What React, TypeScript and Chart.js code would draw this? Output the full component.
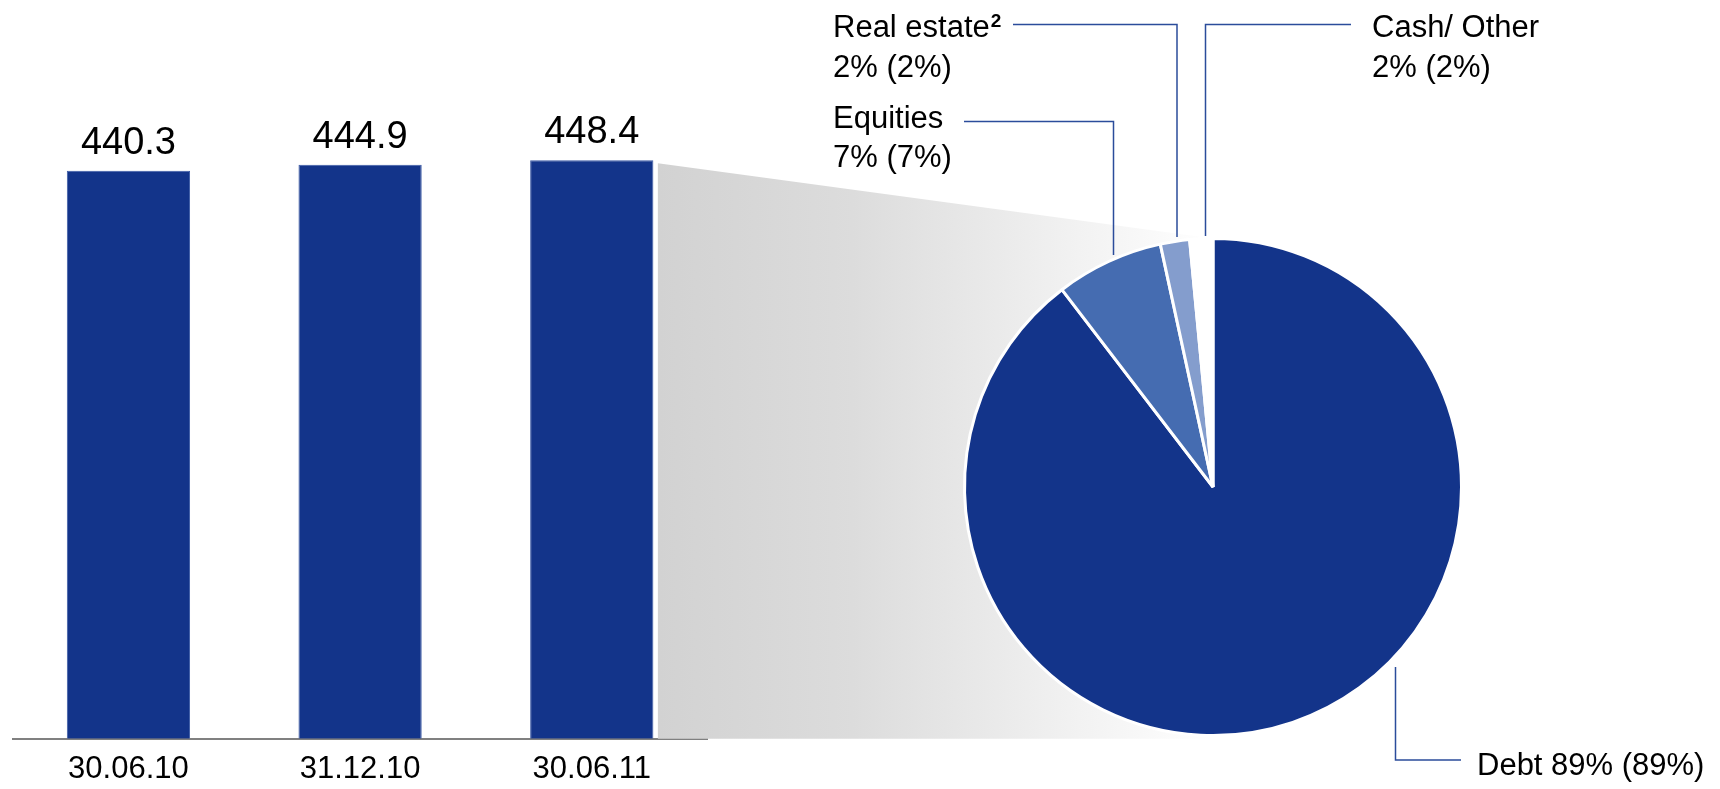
import React, { useEffect, useRef } from "react";
import { Chart, registerables } from "chart.js";

Chart.register(...registerables);

// ---- data ----
const categories = ["30.06.10", "31.12.10", "30.06.11"];
const totalValues = [440.3, 444.9, 448.4];
const valueLabels = ["440.3", "444.9", "448.4"];

const sliceNames = ["Debt", "Equities", "Real estate", "Cash/ Other"];
const sliceValues = [89.6, 7.0, 1.9, 1.5];
const sliceColors = ["#13348a", "#456cb1", "#849dcd", "#ffffff"];
const realEstateLines = ["Real estate", "2% (2%)"];
const equitiesLines = ["Equities", "7% (7%)"];
const cashLines = ["Cash/ Other", "2% (2%)"];
const debtLine = "Debt 89% (89%)";

// ---- layout ----
const W = 1720;
const H = 789;
const PIE_CX = 1213;
const PIE_CY = 487;
const PIE_R = 248.5;
const PIE_CANVAS = 2 * Math.ceil(PIE_R) + 20;
const FONT = "'Liberation Sans', Arial, Helvetica, sans-serif";
const NAVY = "#13348a";
const LEADER = "#2b4c9b";

const overlayPlugin = {
  id: "overlay",
  beforeDatasetsDraw(chart: any) {
    const ctx = chart.ctx;
    const meta = chart.getDatasetMeta(0);
    const bar = meta.data[meta.data.length - 1];
    if (!bar) return;
    const { x, y, width } = bar.getProps(["x", "y", "width"], true);
    const bottom = chart.chartArea.bottom;
    const lx = x + width / 2 + 4.5;
    const topL = y + 3;
    ctx.save();
    const g = ctx.createLinearGradient(lx, 0, PIE_CX, 0);
    g.addColorStop(0, "#d2d2d2");
    g.addColorStop(0.35, "#dcdcdc");
    g.addColorStop(1, "#ffffff");
    ctx.fillStyle = g;
    ctx.beginPath();
    ctx.moveTo(lx, topL);
    ctx.lineTo(PIE_CX, PIE_CY - PIE_R);
    ctx.lineTo(PIE_CX, bottom);
    ctx.lineTo(lx, bottom);
    ctx.closePath();
    ctx.fill();
    ctx.restore();
  },
  afterDatasetsDraw(chart: any) {
    const ctx = chart.ctx;
    const meta = chart.getDatasetMeta(0);
    ctx.save();
    ctx.fillStyle = "#000";
    ctx.font = `38px ${FONT}`;
    ctx.textAlign = "center";
    ctx.textBaseline = "alphabetic";
    meta.data.forEach((el: any, i: number) => {
      const { x, y } = el.getProps(["x", "y"], true);
      ctx.fillText(valueLabels[i], x, y - 17);
    });
    ctx.restore();
  },
  afterDraw(chart: any) {
    const ctx = chart.ctx;
    ctx.save();
    // leader lines
    ctx.strokeStyle = LEADER;
    ctx.lineWidth = 1.5;
    const poly = (pts: number[][]) => {
      ctx.beginPath();
      ctx.moveTo(pts[0][0], pts[0][1]);
      for (let i = 1; i < pts.length; i++) ctx.lineTo(pts[i][0], pts[i][1]);
      ctx.stroke();
    };
    poly([[1013, 24.5], [1177, 24.5], [1177, 237]]);
    poly([[964, 121.5], [1113.5, 121.5], [1113.5, 255]]);
    poly([[1351, 24.5], [1205.5, 24.5], [1205.5, 236]]);
    poly([[1395.5, 667], [1395.5, 760], [1461, 760]]);

    // labels
    ctx.fillStyle = "#000";
    ctx.textAlign = "left";
    ctx.textBaseline = "alphabetic";
    ctx.font = `31px ${FONT}`;
    ctx.fillText(realEstateLines[0], 833, 37);
    const reW = ctx.measureText(realEstateLines[0]).width;
    ctx.fillText(realEstateLines[1], 833, 77);
    ctx.fillText(equitiesLines[0], 833, 128);
    ctx.fillText(equitiesLines[1], 833, 167);
    ctx.fillText(cashLines[0], 1372, 37);
    ctx.fillText(cashLines[1], 1372, 77);
    ctx.fillText(debtLine, 1477, 775);
    ctx.font = `bold 19px ${FONT}`;
    ctx.fillText("2", 833 + reW + 1, 27);
    ctx.restore();
  },
};

export default function App() {
  const barRef = useRef<HTMLCanvasElement | null>(null);
  const pieRef = useRef<HTMLCanvasElement | null>(null);

  useEffect(() => {
    if (!barRef.current || !pieRef.current) return;
    const barChart = new Chart(barRef.current, {
      type: "bar",
      data: {
        labels: categories,
        datasets: [
          {
            data: totalValues,
            backgroundColor: NAVY,
            borderColor: "#3c5aa5",
            borderWidth: 1,
            categoryPercentage: 1,
            barPercentage: 0.532,
          },
        ],
      },
      options: {
        responsive: false,
        animation: false,
        events: [],
        layout: {
          padding: { left: 12.6, right: W - 707.6, top: 93.7, bottom: -11 },
        },
        plugins: {
          legend: { display: false },
          tooltip: { enabled: false },
          title: { display: false },
        },
        scales: {
          x: {
            z: 1,
            grid: { display: false, drawTicks: false },
            border: { display: true, color: "#808080", width: 2 },
            ticks: {
              color: "#000",
              font: { family: FONT, size: 31 },
              padding: 12,
              maxRotation: 0,
            },
          },
          y: {
            display: false,
            min: 0,
            max: 500,
          },
        },
      },
      plugins: [overlayPlugin],
    });

    const pieChart = new Chart(pieRef.current, {
      type: "pie",
      data: {
        labels: sliceNames,
        datasets: [
          {
            data: sliceValues,
            backgroundColor: sliceColors,
            borderColor: "#ffffff",
            borderWidth: 3,
            radius: PIE_R,
          } as any,
        ],
      },
      options: {
        responsive: false,
        animation: false,
        events: [],
        layout: { padding: 0 },
        plugins: {
          legend: { display: false },
          tooltip: { enabled: false },
          title: { display: false },
        },
      },
    });

    return () => {
      barChart.destroy();
      pieChart.destroy();
    };
  }, []);

  return (
    <div
      style={{
        position: "absolute",
        left: 0,
        top: 0,
        width: W,
        height: H,
        background: "#ffffff",
        overflow: "hidden",
      }}
    >
      <canvas
        ref={barRef}
        width={W}
        height={H}
        style={{ position: "absolute", left: 0, top: 0, width: W, height: H }}
      />
      <canvas
        ref={pieRef}
        width={PIE_CANVAS}
        height={PIE_CANVAS}
        style={{
          position: "absolute",
          left: PIE_CX - PIE_CANVAS / 2,
          top: PIE_CY - PIE_CANVAS / 2,
          width: PIE_CANVAS,
          height: PIE_CANVAS,
        }}
      />
    </div>
  );
}
